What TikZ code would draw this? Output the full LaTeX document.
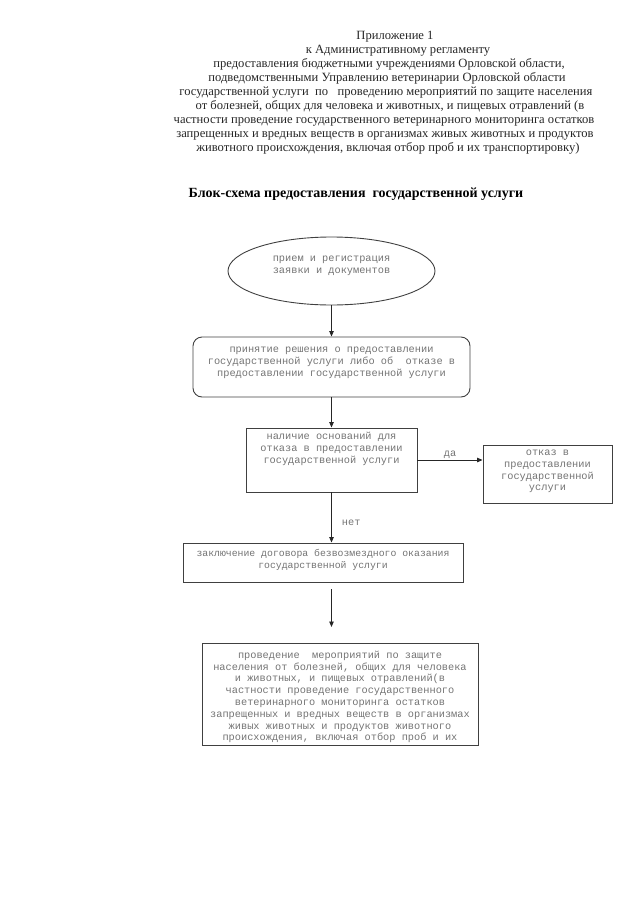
\documentclass[tikz,border=0pt]{standalone}
\usepackage{fontspec}
\setmainfont{Liberation Serif}
\newfontfamily\pishmash{Liberation Mono}
\usetikzlibrary{shapes.geometric}
\usetikzlibrary{arrows.meta}

% text placed at the top of a box of fixed size
\newcommand{\vnutri}[4]{\parbox[c][#1][t]{#2}{\centering\vspace*{#3}#4}}

\begin{document}
\begin{tikzpicture}[x=1pt, y=-1pt,
  blok/.style={draw=black!75, line width=0.9pt, inner sep=0pt,
    font=\pishmash\fontsize{10.3}{11.8}\selectfont, text=black!55},
  strelka/.style={draw=black!85, line width=0.9pt, -{Triangle[length=5.5pt, width=4.5pt]}},
  podpis/.style={font=\pishmash\fontsize{10.3}{11.8}\selectfont, text=black!55, inner sep=1pt}]

\useasboundingbox (0, 0) rectangle (640, 905);

% header
\foreach \x/\y/\stroka in {395/39/{Приложение 1},
  398/53/{к Административному регламенту},
  389/67/{предоставления бюджетными учреждениями Орловской области,},
  387/81/{подведомственными Управлению ветеринарии Орловской области},
  386/95/{государственной услуги \ по \ \ проведению мероприятий по защите населения},
  390/109/{от болезней, общих для человека и животных, и пищевых отравлений (в},
  384/123/{частности проведение государственного ветеринарного мониторинга остатков},
  385/137/{запрещенных и вредных веществ в организмах живых животных и продуктов},
  388/151/{животного происхождения, включая отбор проб и их транспортировку)}}{
\node[anchor=base, inner sep=0pt, font=\fontsize{12.6}{14}\selectfont, text=black!85] at (\x, \y) {\stroka};
}

\node[anchor=base, inner sep=0pt, font=\bfseries\fontsize{14}{16}\selectfont] (zagolovok) at (356, 197)
  {Блок-схема предоставления \ государственной услуги};

% boxes
\node[blok, ellipse, minimum width=207, minimum height=68] (priem) at (331.5, 271)
  {\vnutri{30pt}{140pt}{0pt}{прием и регистрация\\заявки и документов}};

\node[blok, rounded corners=9pt] (reshenie) at (331.5, 367)
  {\vnutri{60pt}{277pt}{10pt}{принятие решения о предоставлении\\государственной услуги либо об \ отказе в\\предоставлении государственной услуги}};

\node[blok] (osnovaniya) at (331.5, 460)
  {\vnutri{64pt}{171pt}{4.5pt}{наличие оснований для\\отказа в предоставлении\\государственной услуги}};

\node[blok] (otkaz) at (547.5, 474)
  {\vnutri{58pt}{129pt}{5pt}{отказ в\\предоставлении\\государственной\\услуги}};

\node[blok] (dogovor) at (323, 562.5)
  {\vnutri{39pt}{280pt}{6pt}{\fontsize{9.8}{12.5}\selectfont заключение договора безвозмездного оказания\\государственной услуги}};

\node[blok] (meropriyatiya) at (340, 694)
  {\vnutri{102pt}{276pt}{8pt}{проведение \ мероприятий по защите\\населения от болезней, общих для человека\\и животных, и пищевых отравлений(в\\частности проведение государственного\\ветеринарного мониторинга остатков\\запрещенных и вредных веществ в организмах\\живых животных и продуктов животного\\происхождения, включая отбор проб и их}};

% connectors
\coordinate (nachalo) at (331.5, 589);
\coordinate (konec) at (331.5, 627);

\draw[strelka] (priem.south) -- (reshenie.north);
\draw[strelka] (reshenie.south) -- (osnovaniya.north);
\draw[strelka] (osnovaniya.east) -- node[podpis, above] {да} (osnovaniya.east -| otkaz.west);
\draw[strelka] (osnovaniya.south) -- node[podpis, pos=0.6, right=9pt] {нет} (osnovaniya.south |- dogovor.north);
\draw[strelka] (nachalo) -- (konec);

\end{tikzpicture}
\end{document}
